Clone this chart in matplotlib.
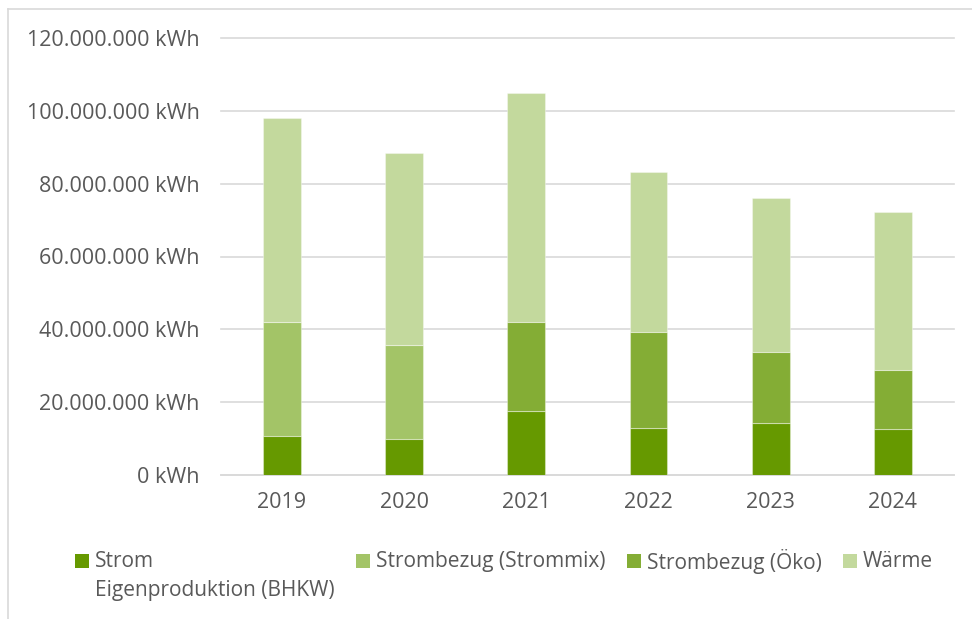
import matplotlib
matplotlib.use("Agg")
import matplotlib.pyplot as plt
from matplotlib.lines import Line2D
from matplotlib.patches import Patch, Rectangle
from matplotlib.legend_handler import HandlerPatch
from matplotlib.ticker import FuncFormatter
import numpy as np

plt.rcParams['font.family'] = ['Open Sans', 'DejaVu Sans']

years = ["2019", "2020", "2021", "2022", "2023", "2024"]
strom_bhkw = [10.7e6, 9.9e6, 17.7e6, 13.0e6, 14.4e6, 12.7e6]
strommix = [31.3e6, 25.8e6, 0, 0, 0, 0]
oeko = [0, 0, 24.3e6, 26.3e6, 19.4e6, 16.1e6]
waerme = [56.0e6, 52.7e6, 62.9e6, 43.9e6, 42.3e6, 43.4e6]

labels = ["Strom\nEigenproduktion (BHKW)", "Strombezug (Strommix)", "Strombezug (Öko)", "Wärme"]
colors = ["#669900", "#A3C467", "#84AD35", "#C3D99D"]

FS = 15.5
LFS = 15
TXT = '#595959'

fig = plt.figure(figsize=(9.72, 6.19), dpi=100)
ax = fig.add_axes([220.7/972, 1-475/619, (954-220.7)/972, (475-38)/619])

x = np.arange(len(years))
series = [strom_bhkw, strommix, oeko, waerme]
bottom = np.zeros(len(years))
for vals, c in zip(series, colors):
    v = np.array(vals)
    ax.bar(x, v, width=0.31, bottom=bottom, color=c, edgecolor=(1, 1, 1, 0.35), linewidth=0.8, zorder=3)
    bottom += v

ax.set_xlim(-0.5, len(years) - 0.5)
ax.set_ylim(0, 120e6)
ax.set_yticks(np.arange(0, 120e6 + 1, 20e6))
ax.yaxis.set_major_formatter(FuncFormatter(lambda v, p: f"{int(round(v)):,}".replace(",", ".") + " kWh"))
ax.set_xticks(x)
ax.set_xticklabels(years)
ax.grid(axis='y', color='#D9D9D9', linewidth=1.2, zorder=0)
for gl in ax.get_ygridlines():
    gl.set_clip_on(False)
for s in ["top", "right", "left"]:
    ax.spines[s].set_visible(False)
ax.spines["bottom"].set_color('#D9D9D9')
ax.spines["bottom"].set_linewidth(1.2)
ax.tick_params(axis='both', length=0, colors=TXT, labelsize=FS)
ax.tick_params(axis='y', pad=15)
ax.tick_params(axis='x', pad=12)


def square_up(legend, orig_handle, xdescent, ydescent, width, height, fontsize):
    s = 10.0
    return Rectangle((-xdescent, -ydescent + 0.55 * fontsize + 3), s, s)


handles = [Patch(facecolor=c, edgecolor='none') for c in colors]
leg_labels = [labels[0]] + [l + "\n " for l in labels[1:]]
leg = fig.legend(handles, leg_labels, loc='upper left', bbox_to_anchor=(75/972, 1-549/619), ncol=4,
                 frameon=False, fontsize=LFS, handlelength=0.68, handletextpad=0.3, columnspacing=1.0,
                 borderpad=0, borderaxespad=0, labelcolor=TXT,
                 handler_map={Patch: HandlerPatch(patch_func=square_up)})
for t in leg.get_texts():
    t.set_linespacing(1.5)

# outer border
fig.add_artist(Line2D([8/972, 8/972], [0, 1-9/619], color='#D9D9D9', linewidth=1.2, transform=fig.transFigure))
fig.add_artist(Line2D([8/972, 1], [1-9/619, 1-9/619], color='#D9D9D9', linewidth=1.2, transform=fig.transFigure))

fig.savefig("out.png", dpi=100)
